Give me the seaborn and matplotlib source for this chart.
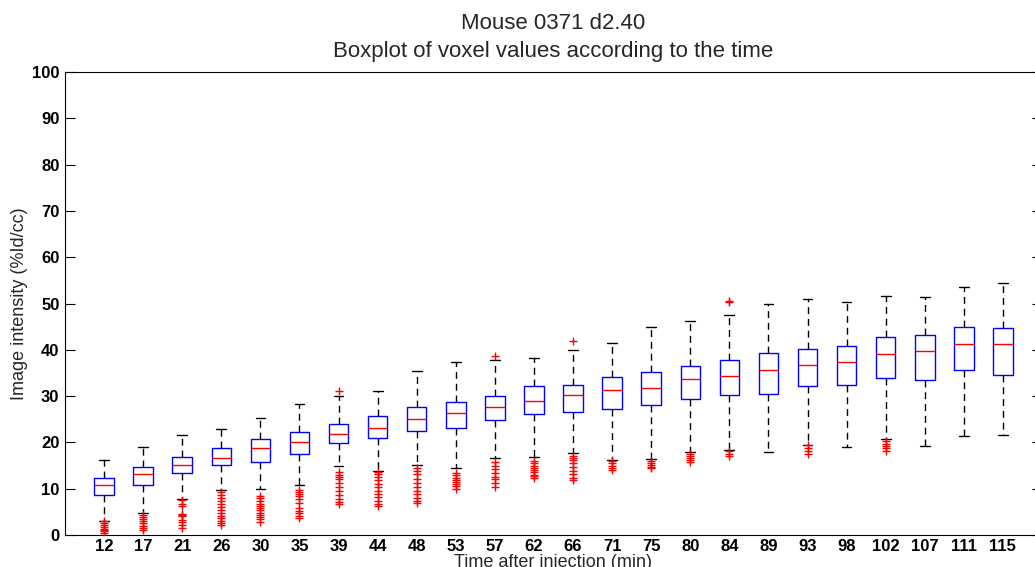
import numpy as np
import pandas as pd
import matplotlib
matplotlib.use("Agg")
import matplotlib.pyplot as plt
import seaborn as sns

# Acquisition times (min) and per-frame voxel statistics
times = ["12", "17", "21", "26", "30", "35", "39", "44", "48", "53", "57", "62",
         "66", "71", "75", "80", "84", "89", "93", "98", "102", "107", "111", "115"]
whisker_low = [3.0, 4.8, 7.8, 9.7, 9.9, 10.7, 14.8, 13.9, 15.1, 14.5, 16.7, 16.9,
               17.7, 16.3, 16.5, 17.9, 18.4, 17.9, 19.5, 18.9, 20.7, 19.3, 21.3, 21.5]
q1 = [8.6, 10.7, 13.3, 15.1, 15.8, 17.4, 19.8, 20.9, 22.5, 23.1, 24.9, 26.1,
      26.6, 27.2, 28.1, 29.3, 30.2, 30.5, 32.2, 32.3, 34.0, 33.5, 35.7, 34.6]
median = [10.7, 13.1, 15.1, 16.7, 18.7, 20.1, 21.9, 23.1, 25.1, 26.3, 27.6, 28.9,
          30.3, 31.3, 31.8, 33.6, 34.3, 35.6, 36.7, 37.3, 39.0, 39.7, 41.3, 41.3]
q3 = [12.3, 14.7, 16.9, 18.7, 20.7, 22.3, 23.9, 25.7, 27.7, 28.7, 30.1, 32.1,
      32.5, 34.1, 35.3, 36.5, 37.7, 39.3, 40.1, 40.9, 42.7, 43.3, 44.9, 44.7]
whisker_high = [16.2, 18.9, 21.5, 22.9, 25.3, 28.3, 30.1, 31.2, 35.4, 37.4, 37.9, 38.2,
                40.0, 41.5, 45.0, 46.2, 47.5, 50.0, 51.0, 50.4, 51.6, 51.3, 53.6, 54.4]
outliers = [
    [3.0, 2.6, 2.2, 1.8, 1.4, 1.1, 0.8, 0.5],
    [4.3, 3.9, 3.5, 3.1, 2.6, 2.0, 1.5, 1.1],
    [7.5, 6.8, 6.2, 4.6, 4.3, 4.0, 3.2, 2.9, 2.2, 1.5],
    [9.2, 8.6, 8.0, 7.3, 6.6, 6.0, 5.4, 4.8, 4.2, 3.6, 3.0, 2.6, 2.2],
    [8.4, 7.9, 7.4, 6.8, 6.3, 5.9, 5.4, 4.8, 4.4, 3.9, 3.5, 2.9],
    [9.7, 9.3, 8.9, 8.4, 7.8, 7.0, 5.8, 5.2, 4.7, 4.2, 3.6],
    [31.0, 13.5, 13.0, 12.5, 12.0, 11.2, 10.3, 9.5, 8.6, 7.8, 7.2, 6.6],
    [13.7, 13.2, 12.6, 11.8, 11.0, 10.3, 9.6, 8.9, 8.2, 7.4, 6.8, 6.2],
    [14.5, 13.8, 13.2, 12.0, 11.2, 10.4, 9.6, 8.8, 8.0, 7.4, 7.0],
    [13.4, 12.9, 12.4, 11.9, 11.4, 11.0, 10.5, 10.0],
    [38.7, 15.8, 15.0, 14.3, 13.4, 12.6, 12.0, 11.2, 10.4],
    [16.0, 15.5, 15.0, 14.5, 14.0, 13.5, 13.0, 12.7, 12.3],
    [42.0, 17.1, 16.6, 16.1, 15.5, 14.6, 13.8, 13.1, 12.4, 11.8],
    [16.0, 15.5, 15.0, 14.5, 14.0],
    [16.0, 15.5, 15.1, 14.7, 14.4],
    [17.6, 17.1, 16.6, 16.1, 15.7],
    [50.3, 50.6, 18.2, 17.6, 17.0],
    [],
    [19.4, 18.8, 18.2, 17.5],
    [],
    [20.3, 19.7, 19.2, 18.7, 18.2],
    [],
    [],
    [],
]

# Five values per frame reproduce the box and whisker positions exactly
box_df = pd.DataFrame({
    "time": np.repeat(times, 5),
    "value": np.column_stack([whisker_low, q1, median, q3, whisker_high]).ravel(),
})
flier_df = pd.DataFrame(
    [(t, v) for t, vals in zip(times, outliers) for v in vals],
    columns=["time", "value"],
)

sns.set_style("white")
plt.rcParams["font.family"] = ["Liberation Sans", "DejaVu Sans"]

fig = plt.figure(figsize=(10.35, 5.67), dpi=100)
ax = fig.add_axes([65 / 1035, 32 / 567, 977 / 1035, 463 / 567])

sns.boxplot(
    data=box_df, x="time", y="value", order=times,
    whis=(0, 100), width=0.5, fill=False, color="blue", linewidth=1.0,
    showfliers=False,
    medianprops=dict(color="red", linewidth=1.0),
    whiskerprops=dict(color="black", linestyle=(0, (5, 3.5)), linewidth=1.0),
    capprops=dict(color="black", linewidth=1.0),
    ax=ax,
)
sns.stripplot(
    data=flier_df, x="time", y="value", order=times,
    jitter=False, marker="+", color="red", size=6, linewidth=1.0, ax=ax,
)

ax.set_xlim(-1, 24)
ax.set_ylim(0, 100)
ax.set_yticks(range(0, 101, 10))
ax.tick_params(axis="y", direction="in", length=7, width=0.8, left=True, right=True,
               labelsize=12, pad=4, colors="black")
ax.tick_params(axis="x", length=0, labelsize=12, pad=3, colors="black")
for lbl in ax.get_xticklabels() + ax.get_yticklabels():
    lbl.set_fontweight("bold")
for sp in ax.spines.values():
    sp.set_visible(True)
    sp.set_color("black")
    sp.set_linewidth(0.8)

ax.set_title("Mouse 0371 d2.40\nBoxplot of voxel values according to the time",
             fontsize=16, pad=11, linespacing=1.4)
ax.set_xlabel("Time after injection (min)", fontsize=13, labelpad=0)
ax.set_ylabel("Image intensity (%Id/cc)", fontsize=13, labelpad=3)

fig.savefig("out.png", dpi=100, facecolor="white")
